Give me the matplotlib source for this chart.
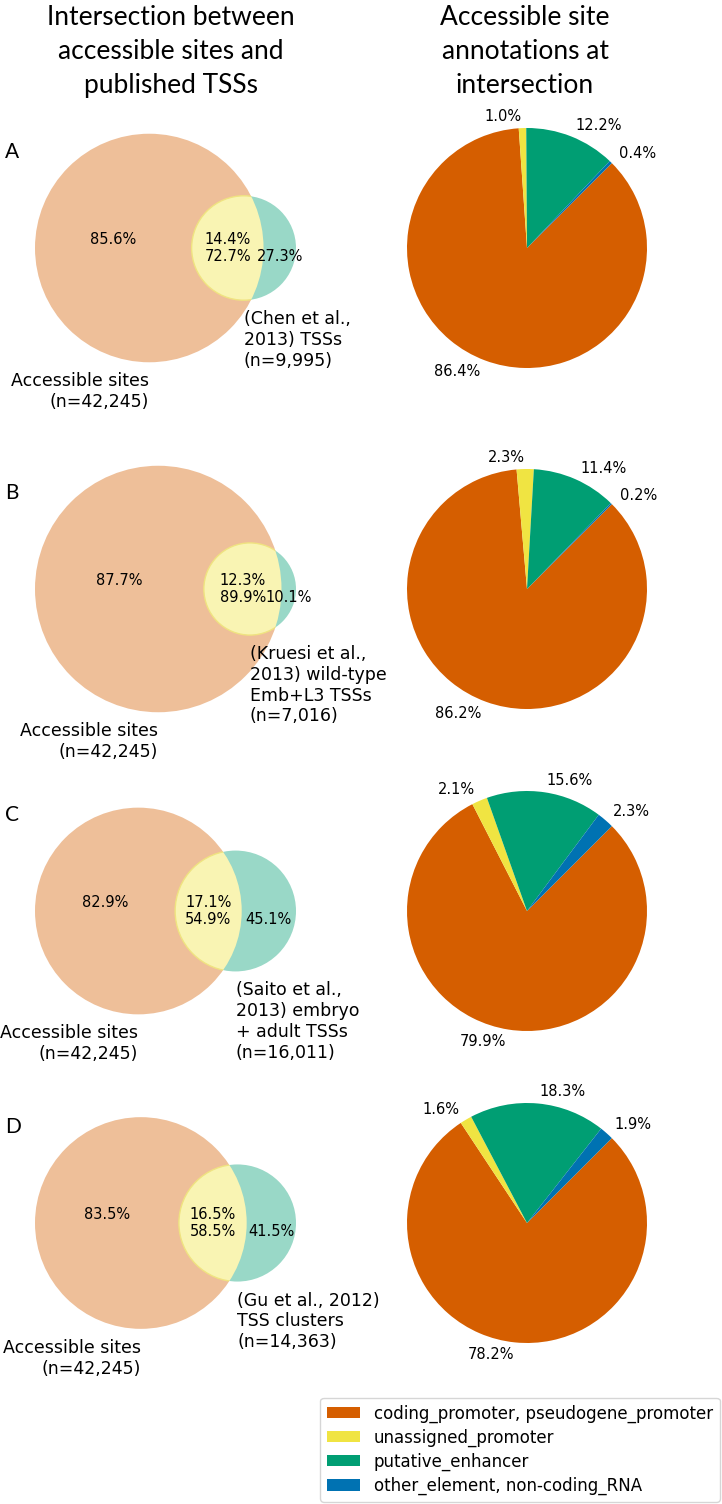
import numpy as np
import matplotlib
matplotlib.use("Agg")
import matplotlib.pyplot as plt
from matplotlib.patches import Circle
from matplotlib import colors as mcolors

# data
n_access = 42245
n_tss = [9995, 7016, 16011, 14363]
tss_names = ["(Chen et al.,\n2013) TSSs",
             "(Kruesi et al.,\n2013) wild-type\nEmb+L3 TSSs",
             "(Saito et al.,\n2013) embryo\n+ adult TSSs",
             "(Gu et al., 2012)\nTSS clusters"]
acc_only_pct = [85.6, 87.7, 82.9, 83.5]
acc_in_pct = [14.4, 12.3, 17.1, 16.5]
tss_in_pct = [72.7, 89.9, 54.9, 58.5]
tss_only_pct = [27.3, 10.1, 45.1, 41.5]
panel_letters = ["A", "B", "C", "D"]

annot_names = ["coding_promoter, pseudogene_promoter", "unassigned_promoter",
               "putative_enhancer", "other_element, non-coding_RNA"]
coding_pct = [86.4, 86.2, 79.9, 78.2]
unassigned_pct = [1.0, 2.3, 2.1, 1.6]
enhancer_pct = [12.2, 11.4, 15.6, 18.3]
other_pct = [0.4, 0.2, 2.3, 1.9]

annot_colors = ["#D55E00", "#F0E442", "#009E73", "#0072B2"]
venn_a_col = "#D55E00"
venn_b_col = "#009E73"
venn_ab_col = "#F0E442"

W, H = 722, 1504
fig = plt.figure(figsize=(W/100, H/100), dpi=100, facecolor="white")

def add_ax_px(x0, ytop, w, h):
    return fig.add_axes([x0/W, 1 - (ytop + h)/H, w/W, h/H])

def tint(c, a=0.4):
    rgb = np.array(mcolors.to_rgb(c))
    return tuple(a*rgb + (1 - a))

def lens_area(r1, r2, d):
    if d >= r1 + r2:
        return 0.0
    if d <= abs(r1 - r2):
        return np.pi*min(r1, r2)**2
    a1 = r1**2*np.arccos((d*d + r1*r1 - r2*r2)/(2*d*r1))
    a2 = r2**2*np.arccos((d*d + r2*r2 - r1*r1)/(2*d*r2))
    a3 = 0.5*np.sqrt((-d + r1 + r2)*(d + r1 - r2)*(d - r1 + r2)*(d + r1 + r2))
    return a1 + a2 - a3

def solve_distance(r1, r2, area):
    lo, hi = abs(r1 - r2), r1 + r2
    for _ in range(80):
        mid = 0.5*(lo + hi)
        if lens_area(r1, r2, mid) > area:
            lo = mid
        else:
            hi = mid
    return 0.5*(lo + hi)

row_y = [248, 589, 911, 1223]
title_font = "Lato"

#titles
fig.text(171/W, 1 - 5/H, "Intersection between\naccessible sites and\npublished TSSs",
         ha="center", va="top", fontsize=19, family=title_font, linespacing=1.45)
fig.text(525/W, 1 - 5/H, "Accessible site\nannotations at\nintersection",
         ha="center", va="top", fontsize=19, family=title_font, linespacing=1.45)

venn_x0, venn_x1 = 35, 296
pie_cx, pie_r = 527, 120
fs = 10.5

for i in range(4):
    yc = row_y[i]
    # venn geometry from set sizes
    ab = acc_in_pct[i]/100*n_access
    b_size = ab + tss_only_pct[i]/100*n_tss[i]
    ra = np.sqrt(n_access/np.pi)
    rb = np.sqrt(b_size/np.pi)
    d = solve_distance(ra, rb, ab)

    ax = add_ax_px(venn_x0, yc - 160, venn_x1 - venn_x0, 320)
    scale = (ra + d + rb)/(venn_x1 - venn_x0)
    ax.set_xlim(-ra, d + rb)
    ax.set_ylim(-160*scale, 160*scale)
    ax.axis("off")

    big = Circle((0, 0), ra, facecolor=tint(venn_a_col), edgecolor="none")
    ax.add_patch(big)
    ax.add_patch(Circle((d, 0), rb, facecolor=tint(venn_b_col), edgecolor="none"))
    lens = Circle((d, 0), rb, facecolor=tint(venn_ab_col),
                  edgecolor=tint("#E0C800", 0.5), linewidth=1.0)
    ax.add_patch(lens)
    lens.set_clip_path(big)

    ax.text((-ra + d - rb)/2, 0, f"{acc_only_pct[i]}%\n", ha="center", va="center", fontsize=fs)
    ax.text((d - rb + ra)/2, 0, f"{acc_in_pct[i]}%\n{tss_in_pct[i]}%", ha="center", va="center", fontsize=fs)
    ax.text((ra + d + rb)/2, 0, f"\n{tss_only_pct[i]}%", ha="center", va="center", fontsize=fs)

    gap = 10*scale
    ax.text(0, -ra - gap, f"Accessible sites\n(n={n_access:,})", ha="right", va="top",
            fontsize=12.5, clip_on=False)
    ax.text(d, -rb - gap, f"{tss_names[i]}\n(n={n_tss[i]:,})", ha="left", va="top",
            fontsize=12.5, clip_on=False)

    fig.text(5/W, 1 - (yc - 106)/H, panel_letters[i], ha="left", va="top",
             fontsize=15, family=title_font)

    # pie of annotations at intersection
    pax = add_ax_px(pie_cx - pie_r, yc - pie_r, 2*pie_r, 2*pie_r)
    vals = [coding_pct[i], unassigned_pct[i], enhancer_pct[i], other_pct[i]]
    wedges, texts = pax.pie(vals, labels=[f"{v}%" for v in vals], colors=annot_colors,
                            startangle=45, counterclock=False,
                            textprops={"fontsize": fs})
    pax.set_xlim(-1, 1)
    pax.set_ylim(-1, 1)
    pax.set_aspect("equal")

fig.legend(wedges, annot_names, loc="lower right", bbox_to_anchor=(1.0, 0.0),
           fontsize=12, borderaxespad=0.15, labelspacing=0.35)

fig.savefig("out.png", dpi=100)
